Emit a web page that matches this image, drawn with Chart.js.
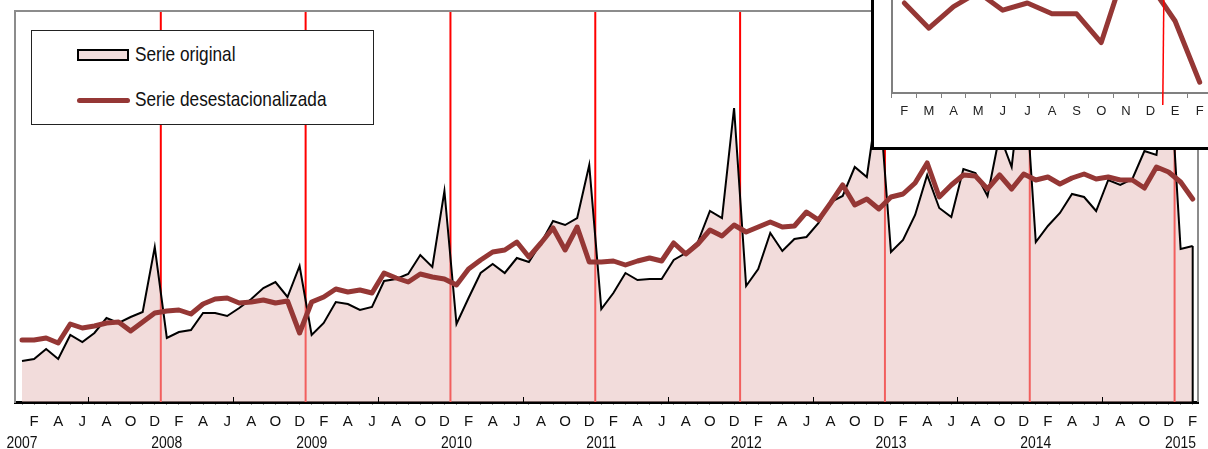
<!doctype html>
<html>

<head>
    <meta charset="utf-8">
    <title>Serie original y desestacionalizada</title>
    <script src="https://cdn.jsdelivr.net/npm/chart.js"></script>
    <style>
        body {
            margin: 0;
            width: 1208px;
            height: 449px;
            overflow: hidden;
            position: relative;
            background: #fff;
            font-family: 'Liberation Sans', Arial, sans-serif;
        }

        #grafico {
            position: absolute;
            left: 0;
            top: 0;
        }

        #leyenda {
            position: absolute;
            left: 31px;
            top: 30px;
            width: 343px;
            height: 95px;
            box-sizing: border-box;
            border: 1px solid #222;
            background: #fff;
            color: #111;
            font-size: 21px;
        }

        /* letra estrecha, como Arial Narrow */
        #leyenda .texto {
            position: absolute;
            left: 103px;
            line-height: 24px;
            white-space: nowrap;
            transform: scaleX(0.82);
            transform-origin: 0 50%;
        }

        #muestraArea {
            position: absolute;
            left: 45px;
            top: 18px;
            width: 52px;
            height: 12px;
            box-sizing: border-box;
            border: 2px solid #000;
            background: #f2dcdb;
        }

        #muestraLinea {
            position: absolute;
            left: 45px;
            top: 67px;
            width: 53px;
            height: 5px;
            border-radius: 3px;
            background: #953735;
        }

        #recuadro {
            position: absolute;
            left: 871px;
            top: -100px;
            width: 340px;
            height: 244px;
            border: 3px solid #000;
            background: #fff;
        }
    </style>
</head>

<body>
    <canvas id="grafico" width="1208" height="449"></canvas>

    <div id="leyenda">
        <span id="muestraArea"></span>
        <span class="texto" style="top: 11px;">Serie original</span>
        <span id="muestraLinea"></span>
        <span class="texto" style="top: 56px;">Serie desestacionalizada</span>
    </div>

    <div id="recuadro">
        <canvas id="detalle" width="340" height="244"></canvas>
    </div>

    <script>
        // meses (ene 2007 - feb 2015)
        const meses = ['E', 'F', 'M', 'A', 'M', 'J', 'J', 'A', 'S', 'O', 'N', 'D']
        const anios = ['2007', '2008', '2009', '2010', '2011', '2012', '2013', '2014', '2015']
        const letrasDetalle = ['F', 'M', 'A', 'M', 'J', 'J', 'A', 'S', 'O', 'N', 'D', 'E', 'F']

        const serieOriginal = [
            41, 43, 53, 43, 67, 60, 69, 84, 79, 85, 90, 155,
            64, 70, 72, 89, 89, 86, 94, 103, 114, 120, 105, 136,
            67, 79, 100, 98, 92, 95, 121, 123, 128, 147, 135, 211,
            78, 104, 129, 138, 129, 144, 140, 159, 181, 177, 184, 237,
            93, 109, 129, 122, 123, 123, 142, 149, 160, 191, 184, 294,
            116, 133, 169, 151, 163, 165, 179, 200, 206, 235, 225, 309,
            150, 162, 187, 227, 194, 185, 233, 229, 206, 267, 235, 342,
            160, 176, 189, 208, 205, 191, 222, 217, 223, 251, 247, 352,
            153, 156
        ]

        const serieDesestacionalizada = [
            62, 62, 64, 59, 78, 74, 76, 79, 80, 71, 80, 89,
            91, 92, 88, 98, 103, 104, 99, 100, 102, 99, 101, 69,
            100, 105, 113, 110, 112, 109, 129, 124, 120, 128, 125, 123,
            117, 133, 142, 150, 152, 160, 145, 159, 174, 152, 175, 140,
            140, 141, 137, 141, 144, 141, 159, 148, 158, 172, 166, 177,
            170, 175, 180, 175, 176, 190, 182, 199, 217, 197, 203, 193,
            205, 208, 219, 239, 205, 217, 227, 226, 213, 227, 213, 228,
            222, 225, 218, 224, 228, 223, 225, 222, 222, 214, 235, 230,
            220, 203
        ]

        const fuente = "'Liberation Sans', Arial, sans-serif"
        const rojoSerie = '#953735'
        const gris = '#8c8c8c'

        function puntos(serie) {
            return serie.map((v, i) => ({ x: i, y: v }))
        }

        const ultimo = serieOriginal.length - 1

        const marcasGrafico = {
            id: 'marcasGrafico',
            beforeDatasetsDraw(chart) {
                const { ctx, chartArea: { top, bottom }, scales: { x } } = chart
                ctx.save()
                ctx.strokeStyle = '#ff0000'
                ctx.lineWidth = 2
                // cambio de año entre diciembre y enero
                for (let k = 1; k < anios.length; k++) {
                    const px = x.getPixelForValue(12 * k - 0.5)
                    ctx.beginPath()
                    ctx.moveTo(px, top)
                    ctx.lineTo(px, bottom)
                    ctx.stroke()
                }
                ctx.restore()
            },
            afterDatasetsDraw(chart) {
                const { ctx, chartArea: { bottom }, scales: { x, y } } = chart
                // cierre del area al final
                ctx.save()
                ctx.strokeStyle = '#000'
                ctx.lineWidth = 2
                const px = x.getPixelForValue(ultimo)
                ctx.beginPath()
                ctx.moveTo(px, y.getPixelForValue(serieOriginal[ultimo]))
                ctx.lineTo(px, bottom)
                ctx.stroke()
                ctx.restore()
            },
            afterDraw(chart) {
                const { ctx, chartArea: { top, bottom, left, right }, scales: { x, x2 } } = chart
                ctx.save()
                ctx.strokeStyle = gris
                ctx.lineWidth = 2
                ctx.beginPath()
                ctx.moveTo(left, bottom)
                ctx.lineTo(left, top)
                ctx.lineTo(right, top)
                ctx.lineTo(right, bottom)
                ctx.stroke()
                // marcas de medio año
                ctx.strokeStyle = '#000'
                ctx.lineWidth = 1
                for (let k = 0; k < anios.length - 1; k++) {
                    const px = Math.round(x.getPixelForValue(12 * k + 5.5)) + 0.5
                    ctx.beginPath()
                    ctx.moveTo(px, bottom)
                    ctx.lineTo(px, bottom - 5)
                    ctx.stroke()
                }
                // años, en letra estrecha
                ctx.fillStyle = '#111'
                ctx.font = '17px ' + fuente
                ctx.textAlign = 'center'
                ctx.textBaseline = 'middle'
                anios.forEach((a, k) => {
                    ctx.save()
                    ctx.translate(x2.getPixelForValue(12 * k), x2.top + 11)
                    ctx.scale(0.82, 1)
                    ctx.fillText(a, 0, 0)
                    ctx.restore()
                })
                ctx.restore()
            }
        }

        var grafico = new Chart(document.getElementById('grafico').getContext('2d'), {
            type: 'line',
            data: {
                datasets: [{
                    label: 'Serie desestacionalizada',
                    data: puntos(serieDesestacionalizada),
                    borderColor: rojoSerie,
                    borderWidth: 5,
                    borderJoinStyle: 'round',
                    borderCapStyle: 'round',
                    pointRadius: 0,
                    tension: 0,
                    fill: false,
                    order: 0
                }, {
                    label: 'Serie original',
                    data: puntos(serieOriginal),
                    borderColor: '#000',
                    borderWidth: 2,
                    backgroundColor: 'rgba(230, 187, 185, 0.51)',
                    pointRadius: 0,
                    tension: 0,
                    fill: 'origin',
                    order: 1
                }]
            },
            options: {
                responsive: false,
                animation: false,
                layout: { padding: { left: 15, top: 11, right: 10, bottom: 0 } },
                plugins: { legend: { display: false }, tooltip: { enabled: false } },
                scales: {
                    x: {
                        type: 'linear',
                        min: -0.58,
                        max: 97.44,
                        afterBuildTicks: s => { s.ticks = serieOriginal.map((v, i) => ({ value: i })) },
                        afterFit: s => { s.height = 30 },
                        grid: { drawOnChartArea: false, tickLength: 3, color: '#999' },
                        border: { color: '#000', width: 3 },
                        ticks: {
                            autoSkip: false,
                            maxRotation: 0,
                            padding: 8,
                            color: '#111',
                            font: { family: fuente, size: 15 },
                            callback: v => (v % 2 === 1 ? meses[v % 12] : '')
                        }
                    },
                    x2: {
                        type: 'linear',
                        position: 'bottom',
                        weight: 1,
                        min: -0.58,
                        max: 97.44,
                        afterFit: s => { s.height = 17 },
                        grid: { display: false, drawTicks: false },
                        border: { display: false },
                        ticks: { display: false }
                    },
                    y: {
                        min: 0,
                        max: 391,
                        afterFit: s => { s.width = 0 },
                        ticks: { display: false },
                        grid: { display: false, drawTicks: false },
                        border: { color: gris, width: 2 }
                    }
                }
            },
            plugins: [marcasGrafico]
        });

        // recuadro: ultimos 13 meses de la serie desestacionalizada
        const lineaEnero = {
            id: 'lineaEnero',
            afterDraw(chart) {
                const { ctx, chartArea: { bottom }, scales: { x } } = chart
                const px = x.getPixelForValue(10.5)
                ctx.save()
                ctx.strokeStyle = '#ff0000'
                ctx.lineWidth = 1.5
                ctx.beginPath()
                ctx.moveTo(px + 2, 0)
                ctx.lineTo(px, bottom + 12)
                ctx.stroke()
                ctx.restore()
            }
        }

        var detalle = new Chart(document.getElementById('detalle').getContext('2d'), {
            type: 'line',
            data: {
                labels: letrasDetalle,
                datasets: [{
                    data: serieDesestacionalizada.slice(-letrasDetalle.length),
                    borderColor: rojoSerie,
                    borderWidth: 5,
                    borderJoinStyle: 'round',
                    borderCapStyle: 'round',
                    pointRadius: 0,
                    tension: 0
                }]
            },
            options: {
                responsive: false,
                animation: false,
                layout: { padding: { left: 18, top: 46, right: 2, bottom: 0 } },
                plugins: { legend: { display: false }, tooltip: { enabled: false } },
                scales: {
                    x: {
                        offset: true,
                        afterFit: s => { s.height = 54 },
                        grid: { offset: true, drawOnChartArea: false, tickLength: 5, color: '#808080' },
                        border: { color: '#808080', width: 2 },
                        ticks: {
                            padding: 6,
                            color: '#222',
                            font: { family: fuente, size: 13 }
                        }
                    },
                    y: {
                        min: 200,
                        max: 240,
                        afterFit: s => { s.width = 0 },
                        ticks: { display: false },
                        grid: { display: false, drawTicks: false },
                        border: { color: '#808080', width: 2 }
                    }
                }
            },
            plugins: [lineaEnero]
        });
    </script>
</body>

</html>
